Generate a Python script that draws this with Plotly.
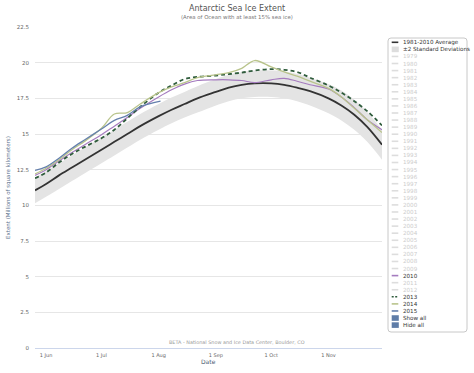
import plotly.graph_objects as go

# ---------------- data ----------------
dates = ["2015-05-26", "2015-06-01", "2015-06-08", "2015-06-15", "2015-06-22",
         "2015-07-01", "2015-07-08", "2015-07-15", "2015-07-22", "2015-08-01",
         "2015-08-08", "2015-08-15", "2015-08-22", "2015-09-01", "2015-09-08",
         "2015-09-15", "2015-09-22", "2015-10-01", "2015-10-08", "2015-10-15",
         "2015-10-22", "2015-11-01", "2015-11-08", "2015-11-15", "2015-11-22",
         "2015-11-30"]

avg_1981_2010 = [11.05, 11.5, 12.1, 12.65, 13.2, 13.9, 14.45, 15.0, 15.55, 16.25,
                 16.7, 17.1, 17.5, 17.95, 18.25, 18.45, 18.55, 18.55, 18.45, 18.25,
                 18.0, 17.5, 17.0, 16.35, 15.5, 14.25]
sd_low = [10.15, 10.6, 11.15, 11.7, 12.25, 12.95, 13.5, 14.05, 14.6, 15.3,
          15.75, 16.15, 16.5, 17.0, 17.3, 17.5, 17.6, 17.6, 17.5, 17.3,
          17.0, 16.45, 15.95, 15.3, 14.45, 13.2]
sd_high = [11.95, 12.4, 12.95, 13.5, 14.05, 14.75, 15.3, 15.85, 16.4, 17.1,
           17.55, 17.95, 18.35, 18.85, 19.15, 19.35, 19.45, 19.45, 19.4, 19.2,
           18.95, 18.5, 18.05, 17.4, 16.55, 15.3]

ext_2010 = [12.1, 12.5, 13.1, 13.7, 14.25, 14.95, 15.55, 16.15, 16.8, 17.6,
            18.1, 18.5, 18.75, 18.8, 18.8, 18.75, 18.6, 18.8, 18.9, 18.7,
            18.45, 18.15, 17.6, 16.85, 16.0, 15.3]
ext_2013 = [11.9, 12.3, 13.0, 13.6, 14.1, 14.7, 15.3, 16.1, 16.9, 17.9,
            18.4, 18.85, 19.0, 19.1, 19.2, 19.3, 19.45, 19.55, 19.5, 19.35,
            18.95, 18.4, 17.9, 17.3, 16.6, 15.6]
ext_2014 = [12.2, 12.6, 13.2, 13.9, 14.5, 15.4, 16.4, 16.5, 17.1, 17.9,
            18.3, 18.6, 18.95, 19.15, 19.3, 19.6, 20.15, 19.7, 19.35, 19.05,
            18.7, 18.2, 17.6, 16.8, 16.0, 15.1]
dates_2015 = ["2015-05-26", "2015-06-01", "2015-06-08", "2015-06-15", "2015-06-22",
              "2015-07-01", "2015-07-08", "2015-07-15", "2015-07-22", "2015-08-02"]
ext_2015 = [12.45, 12.7, 13.3, 14.0, 14.6, 15.35, 15.95, 16.3, 16.9, 17.3]

tick_dates = ["2015-06-01", "2015-07-01", "2015-08-01", "2015-09-01", "2015-10-01", "2015-11-01"]
tick_labels = ["1 Jun", "1 Jul", "1 Aug", "1 Sep", "1 Oct", "1 Nov"]
y_ticks = [0, 2.5, 5, 7.5, 10, 12.5, 15, 17.5, 20, 22.5]
y_tick_labels = ["0", "2.5", "5", "7.5", "10", "12.5", "15", "17.5", "20", "22.5"]

legend_years = [str(y) for y in range(1979, 2016)]
shown_years = {"2010": ("#a57cbf", "solid"), "2013": ("#2f5c3c", "dash"),
               "2014": ("#b9c48c", "solid"), "2015": ("#6580ad", "solid")}

# ---------------- styling ----------------
FONT = "DejaVu Sans"
W, H = 474, 373
L, R, T, B = 35, 382, 27, 348


def px(xp):
    return (xp - L) / (R - L)


def py(yp):
    return (B - yp) / (B - T)


fig = go.Figure()

fig.add_trace(go.Scatter(x=dates, y=sd_high, mode="lines", line=dict(width=0, shape="spline"),
                         hoverinfo="skip", showlegend=False))
fig.add_trace(go.Scatter(x=dates, y=sd_low, mode="lines", line=dict(width=0, shape="spline"),
                         fill="tonexty", fillcolor="#e4e4e4", name="±2 Standard Deviations",
                         showlegend=False))
fig.add_trace(go.Scatter(x=dates, y=avg_1981_2010, mode="lines",
                         line=dict(color="#333333", width=1.8, shape="spline"),
                         name="1981-2010 Average", showlegend=False))
fig.add_trace(go.Scatter(x=dates, y=ext_2010, mode="lines",
                         line=dict(color=shown_years["2010"][0], width=1.2, shape="spline"),
                         name="2010", showlegend=False))
fig.add_trace(go.Scatter(x=dates, y=ext_2013, mode="lines",
                         line=dict(color=shown_years["2013"][0], width=1.8, shape="spline", dash="4px,3px"),
                         name="2013", showlegend=False))
fig.add_trace(go.Scatter(x=dates, y=ext_2014, mode="lines",
                         line=dict(color=shown_years["2014"][0], width=1.3, shape="spline"),
                         name="2014", showlegend=False))
fig.add_trace(go.Scatter(x=dates_2015, y=ext_2015, mode="lines",
                         line=dict(color=shown_years["2015"][0], width=1.3, shape="spline"),
                         name="2015", showlegend=False))

annotations = []
shapes = []

# titles
annotations.append(dict(text="Antarctic Sea Ice Extent", xref="paper", yref="paper",
                        x=px(237), y=py(8.5), showarrow=False, xanchor="center", yanchor="middle",
                        font=dict(family=FONT, size=8, color="#555555")))
annotations.append(dict(text="(Area of Ocean with at least 15% sea ice)", xref="paper", yref="paper",
                        x=px(237), y=py(16.5), showarrow=False, xanchor="center", yanchor="middle",
                        font=dict(family=FONT, size=5.4, color="#777777")))
# axis titles
annotations.append(dict(text="Extent (Millions of square kilometers)", xref="paper", yref="paper",
                        x=px(9), y=py(188), showarrow=False, textangle=-90,
                        xanchor="center", yanchor="middle",
                        font=dict(family=FONT, size=5.5, color="#5a6f8c")))
annotations.append(dict(text="Date", xref="paper", yref="paper",
                        x=px(208), y=py(361.5), showarrow=False, xanchor="center", yanchor="middle",
                        font=dict(family=FONT, size=6, color="#4a5a70")))
annotations.append(dict(text="BETA - National Snow and Ice Data Center, Boulder, CO",
                        xref="paper", yref="paper", x=px(237), y=py(342), showarrow=False,
                        xanchor="center", yanchor="middle",
                        font=dict(family=FONT, size=4.9, color="#999999")))

# custom legend
lx0, lx1, ly0, ly1, rr = 388, 467, 38, 332, 3
path = (f"M {px(lx0 + rr)} {py(ly0)} L {px(lx1 - rr)} {py(ly0)} Q {px(lx1)} {py(ly0)} {px(lx1)} {py(ly0 + rr)} "
        f"L {px(lx1)} {py(ly1 - rr)} Q {px(lx1)} {py(ly1)} {px(lx1 - rr)} {py(ly1)} "
        f"L {px(lx0 + rr)} {py(ly1)} Q {px(lx0)} {py(ly1)} {px(lx0)} {py(ly1 - rr)} "
        f"L {px(lx0)} {py(ly0 + rr)} Q {px(lx0)} {py(ly0)} {px(lx0 + rr)} {py(ly0)} Z")
shapes.append(dict(type="path", xref="paper", yref="paper", path=path,
                   line=dict(color="#c8c8c8", width=1), fillcolor="rgba(255,255,255,0)"))

items = [("1981-2010 Average", "line", "#333333", "solid", "#333333"),
         ("±2 Standard Deviations", "box", "#dddddd", None, "#333333")]
for yr in legend_years:
    if yr in shown_years:
        c, d = shown_years[yr]
        items.append((yr, "line", c, d, "#333333"))
    else:
        items.append((yr, "line", "#dddddd", "solid", "#cccccc"))
items.append(("Show all", "box", "#5f7da8", None, "#333333"))
items.append(("Hide all", "box", "#5f7da8", None, "#333333"))

y0, step = 42.3, 7.07
sx0, sx1, tx = 391.7, 398.3, 400.8
for i, (label, kind, col, dash, tcol) in enumerate(items):
    yc = y0 + i * step
    if kind == "line":
        shapes.append(dict(type="line", xref="paper", yref="paper",
                           x0=px(sx0), x1=px(sx1), y0=py(yc), y1=py(yc),
                           line=dict(color=col, width=1.6,
                                     dash="2px,1.5px" if dash == "dash" else "solid")))
    else:
        hh = 2.8
        shapes.append(dict(type="rect", xref="paper", yref="paper",
                           x0=px(sx0), x1=px(sx1 + 0.5), y0=py(yc - hh), y1=py(yc + hh),
                           line=dict(width=0), fillcolor=col))
    annotations.append(dict(text=label, xref="paper", yref="paper", x=px(tx), y=py(yc),
                            showarrow=False, xanchor="left", yanchor="middle",
                            font=dict(family=FONT, size=5.6, color=tcol)))

fig.update_layout(
    width=W, height=H,
    margin=dict(l=L, r=W - R, t=T, b=H - B, pad=0),
    paper_bgcolor="white", plot_bgcolor="white",
    showlegend=False,
    font=dict(family=FONT, color="#666666"),
    annotations=annotations, shapes=shapes,
    xaxis=dict(type="date", range=["2015-05-26", "2015-11-30"],
               tickmode="array", tickvals=tick_dates, ticktext=tick_labels,
               tickfont=dict(family=FONT, size=5, color="#666666"),
               showgrid=False, zeroline=False, showline=True, linecolor="#ccd6eb", linewidth=1,
               ticks="", ticklabelstandoff=2),
    yaxis=dict(range=[0, 22.5], tickmode="array", tickvals=y_ticks, ticktext=y_tick_labels,
               tickfont=dict(family=FONT, size=5.5, color="#666666"),
               showgrid=True, gridcolor="#e6e6e6", gridwidth=1, zeroline=False,
               showline=False, ticks="", ticklabelstandoff=5),
)

fig.write_html("out.html", config={"displayModeBar": False},
               post_script="document.body.style.margin='0px';")
